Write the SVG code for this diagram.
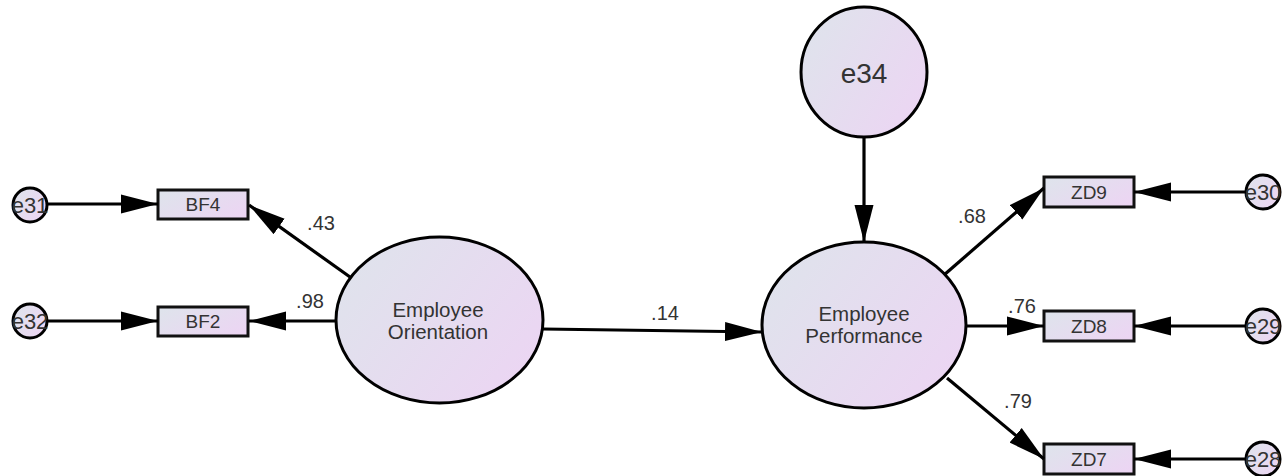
<svg xmlns="http://www.w3.org/2000/svg" width="1282" height="476" viewBox="0 0 1282 476">
<defs>
<linearGradient id="fillg" x1="0" y1="0.2" x2="1" y2="0.8">
<stop offset="0" stop-color="#dfe3ec"/>
<stop offset="1" stop-color="#ecd5f3"/>
</linearGradient>
<marker id="arr" markerUnits="userSpaceOnUse" markerWidth="38" markerHeight="20" refX="37" refY="10" orient="auto" viewBox="0 0 38 20">
<path d="M0,0.5 L37,10 L0,19.5 Z" fill="#000"/>
</marker>
<style>
.lat{fill:url(#fillg);stroke:#000;stroke-width:3}
.err{fill:url(#fillg);stroke:#000;stroke-width:3}
.obs{fill:url(#fillg);stroke:#111;stroke-width:3}
.con{stroke:#000;stroke-width:3.2;fill:none;marker-end:url(#arr)}
text{font-family:"Liberation Sans",Arial,sans-serif;fill:#333;text-anchor:middle}
.lt{font-size:20.5px}
.et{font-size:22px}
.ot{font-size:19px}
.wt{font-size:20px}
</style>
</defs>
<rect width="1282" height="476" fill="#fff"/>

<g id="e34">
<ellipse class="lat" cx="864" cy="72" rx="63" ry="65"/>
<text x="864" y="83" style="font-size:28px">e34</text>
</g>
<g id="EO">
<ellipse class="lat" cx="439.5" cy="320" rx="103.5" ry="83"/>
<text class="lt" x="438" y="317">Employee</text>
<text class="lt" x="438" y="339">Orientation</text>
</g>
<g id="EP">
<ellipse class="lat" cx="864" cy="325" rx="102" ry="83"/>
<text class="lt" x="864" y="321">Employee</text>
<text class="lt" x="864" y="343">Performance</text>
</g>
<g id="BF4">
<rect class="obs" x="158" y="190" width="90" height="29"/>
<text class="ot" x="203" y="211">BF4</text>
</g>
<g id="BF2">
<rect class="obs" x="158" y="307" width="90" height="29"/>
<text class="ot" x="203" y="328">BF2</text>
</g>
<g id="ZD9">
<rect class="obs" x="1044" y="177" width="90" height="30"/>
<text class="ot" x="1089" y="199">ZD9</text>
</g>
<g id="ZD8">
<rect class="obs" x="1044" y="311" width="90" height="30"/>
<text class="ot" x="1089" y="333">ZD8</text>
</g>
<g id="ZD7">
<rect class="obs" x="1044" y="444" width="90" height="30"/>
<text class="ot" x="1089" y="466">ZD7</text>
</g>
<g id="e31">
<circle class="err" cx="30" cy="205" r="17"/>
<text class="et" x="30" y="213">e31</text>
</g>
<g id="e32">
<circle class="err" cx="30" cy="321" r="17"/>
<text class="et" x="30" y="329">e32</text>
</g>
<g id="e30">
<circle class="err" cx="1263" cy="192" r="17"/>
<text class="et" x="1263" y="200">e30</text>
</g>
<g id="e29">
<circle class="err" cx="1263" cy="326" r="17"/>
<text class="et" x="1263" y="334">e29</text>
</g>
<g id="e28">
<circle class="err" cx="1263" cy="459" r="17"/>
<text class="et" x="1263" y="467">e28</text>
</g>

<g id="connectors">
<line class="con" x1="47" y1="204" x2="158" y2="204"/>
<line class="con" x1="47" y1="321" x2="158" y2="321"/>
<line class="con" x1="350" y1="277" x2="249" y2="205"/>
<line class="con" x1="336" y1="321" x2="249" y2="321"/>
<line class="con" x1="543" y1="329" x2="762" y2="332"/>
<line class="con" x1="864" y1="137" x2="864" y2="242"/>
<line class="con" x1="944" y1="275" x2="1044" y2="188"/>
<line class="con" x1="966" y1="326" x2="1044" y2="326"/>
<line class="con" x1="947" y1="378" x2="1044" y2="459"/>
<line class="con" x1="1246" y1="192" x2="1134" y2="192"/>
<line class="con" x1="1246" y1="326" x2="1134" y2="326"/>
<line class="con" x1="1246" y1="459" x2="1134" y2="459"/>
<g id="weights">
<text class="wt" x="321" y="230">.43</text>
<text class="wt" x="310" y="308">.98</text>
<text class="wt" x="665" y="320">.14</text>
<text class="wt" x="972" y="223">.68</text>
<text class="wt" x="1022" y="313">.76</text>
<text class="wt" x="1018" y="408">.79</text>
</g>
</g>
</svg>
